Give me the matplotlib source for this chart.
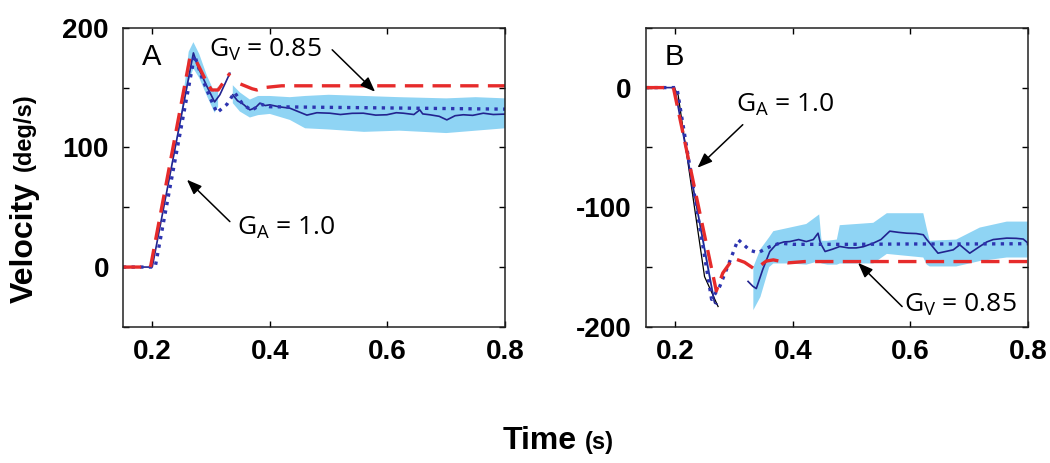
import numpy as np
import matplotlib.pyplot as plt

nan = np.nan

# ---- panel A (upward step) ----
a_ga_t = [0.15, 0.197, 0.264, 0.275, 0.285, 0.293, 0.301, 0.312, 0.322, 0.332, nan,
          0.35, 0.36, 0.37, 0.378, 0.39, 0.42, 0.8]
a_ga_v = [0, 0, 175, 172, 162, 154, 148, 148, 155, 162, nan,
          153, 151, 149, 148, 150, 151.5, 151.5]

a_gv_t = [0.15, 0.205, 0.272, 0.284, 0.298, 0.31, 0.327, 0.34, 0.354, 0.369, 0.385,
          0.4, 0.5, 0.6, 0.7, 0.8]
a_gv_v = [0, 0, 177, 159, 142, 129, 136, 146, 136, 131, 136,
          134, 133.5, 133, 132.5, 132]

a_mean_t = [0.15, 0.2, 0.27, 0.278, 0.293, 0.306, 0.315, 0.332, nan,
            0.337, 0.345, 0.355, 0.366, 0.375, 0.383, 0.392, 0.40, 0.415, 0.434,
            0.448, 0.463, 0.48, 0.502, 0.52, 0.54, 0.559, 0.58, 0.599, 0.615,
            0.627, 0.645, 0.655, 0.66, 0.672, 0.688, 0.701, 0.715, 0.729, 0.745,
            0.763, 0.78, 0.797, 0.8]
a_mean_v = [0, 0, 179, 167, 151, 138, 144, 162, nan,
            144, 139, 136, 131.4, 133, 137, 135, 135.6, 134, 132.8,
            130, 127, 129, 128.6, 127.5, 128.5, 128.6, 127, 127.3, 129,
            128.6, 127.5, 131.4, 128, 127.3, 126, 123, 126.5, 127.3, 126.8,
            128.6, 127.5, 127.8, 127.8]

a_band_t = [0.2, 0.25, 0.262, 0.27, 0.28, 0.293, 0.306, 0.312, nan,
            0.337, 0.349, 0.366, 0.38, 0.40, 0.434, 0.46, 0.50, 0.56, 0.62,
            0.70, 0.75, 0.8]
a_band_lo = [0, 124, 155, 166, 158, 143, 129, 134, nan,
             137, 130, 125, 127, 128, 123, 116, 115, 113, 114,
             112, 114, 116]
a_band_hi = [0, 132, 180, 188, 178, 160, 146, 151, nan,
             152, 146, 140, 143, 143, 142, 143, 144, 143, 142,
             141, 142, 141]

# ---- panel B (downward step) ----
b_ga_t = [0.15, 0.197, 0.27, 0.281, 0.299, 0.318, 0.333, 0.341, 0.355, 0.367,
          0.392, 0.42, 0.8]
b_ga_v = [0, 0, -170, -155, -142.6, -146, -151, -150, -145, -144,
          -146.5, -145.4, -145.4]

b_gv_t = [0.15, 0.203, 0.262, 0.276, 0.293, 0.307, 0.327, 0.341, 0.361, 0.378,
          0.4, 0.5, 0.6, 0.7, 0.8]
b_gv_v = [0, 0, -177, -166, -145, -127, -136, -138, -133, -130,
          -131, -131, -130.7, -130.7, -130.5]

b_mean_t = [0.15, 0.199, 0.267, 0.271, nan,
            0.324, 0.332, 0.338, 0.349, 0.361, 0.372, 0.385, 0.395, 0.41, 0.423,
            0.435, 0.443, 0.447, 0.455, 0.468, 0.48, 0.495, 0.508, 0.52, 0.537,
            0.55, 0.565, 0.58, 0.594, 0.61, 0.622, 0.628, 0.633, 0.647, 0.66,
            0.673, 0.684, 0.701, 0.718, 0.73, 0.741, 0.764, 0.78, 0.792, 0.8]
b_mean_v = [0, 0, -180, -181, nan,
            -162, -166, -168, -152, -137, -131, -129, -128.7, -127, -128.7,
            -127, -121.7, -130, -137, -135, -132.8, -134, -134, -133, -130,
            -127, -120, -121, -121.7, -122, -123, -127, -130, -138.4, -137,
            -135.6, -131.4, -138.4, -132.8, -129, -127, -125.8, -126, -126.6, -130]

b_band_t = [0.2, 0.23, 0.255, 0.267, nan,
            0.333, 0.345, 0.36, 0.367, 0.395, 0.423, 0.445, 0.449, 0.459, 0.475,
            0.48, 0.537, 0.56, 0.622, 0.628, 0.633, 0.678, 0.718, 0.764, 0.8]
b_band_lo = [0, -85, -153, -182, nan,
             -186, -175, -150, -147, -147, -148, -145, -147, -148, -148,
             -147, -147, -139, -142, -148, -149.5, -149.5, -145, -142, -142]
b_band_hi = [0, -79, -143, -176, nan,
             -150, -135, -125, -120, -117, -114, -106, -128, -128, -127,
             -115, -113, -105, -105, -118, -128, -127, -117, -112, -112]

b_black_t = [0.198, 0.205, 0.25, 0.262, 0.273]
b_black_v = [0, -6, -158, -171, -183]

x_ticks = [0.2, 0.4, 0.6, 0.8]

RED = '#e62b2b'
NAVY = '#22238f'
DOT = '#2d34b0'
BAND = '#8fd4f4'

plt.rcParams['font.family'] = ['Liberation Sans', 'DejaVu Sans']

fig = plt.figure(figsize=(10.5, 4.63), dpi=100)
axA = fig.add_axes([0.117, 0.294, 0.364, 0.646])
axB = fig.add_axes([0.615, 0.294, 0.364, 0.646])


def draw_panel(ax, band_t, lo, hi, ga_t, ga_v, gv_t, gv_v, m_t, m_v):
    ax.fill_between(band_t, lo, hi, color=BAND, lw=0)
    ax.plot(m_t, m_v, color=NAVY, lw=1.2)
    ax.plot(gv_t, gv_v, color=DOT, lw=2.4, linestyle=(0, (1, 1.6)))
    ax.plot(ga_t, ga_v, color=RED, lw=2.4, linestyle=(0, (5.5, 2.8)))


def style_axes(ax, ylim, yticks, ylabels):
    ax.set_xlim(0.15, 0.8)
    ax.set_ylim(*ylim)
    ax.set_xticks(x_ticks)
    ax.set_xticklabels([str(v) for v in x_ticks])
    ax.set_yticks(yticks)
    ax.set_yticklabels(ylabels)
    ax.tick_params(direction='in', top=True, right=True, length=4, width=1,
                   labelsize=20)
    ax.tick_params(axis='y', pad=10)
    ax.tick_params(axis='x', pad=9)
    for lab in ax.get_xticklabels() + ax.get_yticklabels():
        lab.set_fontweight('bold')
    for s in ax.spines.values():
        s.set_linewidth(1.1)
        s.set_color('#222222')


draw_panel(axA, a_band_t, a_band_lo, a_band_hi, a_ga_t, a_ga_v,
           a_gv_t, a_gv_v, a_mean_t, a_mean_v)
axB.plot(b_black_t, b_black_v, color='black', lw=0.9)
draw_panel(axB, b_band_t, b_band_lo, b_band_hi, b_ga_t, b_ga_v,
           b_gv_t, b_gv_v, b_mean_t, b_mean_v)

style_axes(axA, (-50, 200), [-50, 0, 50, 100, 150, 200],
           ['', '0', '', '100', '', '200'])
style_axes(axB, (-200, 50), [-200, -150, -100, -50, 0, 50],
           ['-200', '', '-100', '', '0', ''])

ann_font = dict(fontsize=19, family=['Open Sans', 'DejaVu Sans'], va='baseline')
arrow = dict(arrowstyle='-|>,head_length=0.9,head_width=0.35', color='black',
             lw=1.1, shrinkA=0, shrinkB=0)

axA.text(0.182, 169, 'A', fontsize=21, va='baseline')
axA.text(0.296, 176, r'G$\mathregular{_V}$ = 0.85', **ann_font)
axA.annotate('', xy=(0.579, 146.5), xytext=(0.506, 181.6), arrowprops=arrow)
axA.text(0.344, 27, r'G$\mathregular{_A}$ = 1.0', **ann_font)
axA.annotate('', xy=(0.259, 73), xytext=(0.332, 38), arrowprops=arrow)

axB.text(0.182, 19, 'B', fontsize=21, va='baseline')
axB.text(0.303, -20, r'G$\mathregular{_A}$ = 1.0', **ann_font)
axB.annotate('', xy=(0.238, -67), xytext=(0.315, -31), arrowprops=arrow)
axB.text(0.589, -187, r'G$\mathregular{_V}$ = 0.85', **ann_font)
axB.annotate('', xy=(0.511, -146.5), xytext=(0.586, -183), arrowprops=arrow)

# axis titles
fig.text(33 / 1050, 1 - 303 / 463, 'Velocity', rotation=90, rotation_mode='anchor',
         ha='left', va='baseline', fontsize=23, fontweight='bold')
fig.text(31 / 1050, 1 - 171 / 463, '(deg/s)', rotation=90, rotation_mode='anchor',
         ha='left', va='baseline', fontsize=17, fontweight='bold')
fig.text(503 / 1050, 1 - 449 / 463, 'Time', ha='left', va='baseline',
         fontsize=23, fontweight='bold')
fig.text(585 / 1050, 1 - 449 / 463, '(s)', ha='left', va='baseline',
         fontsize=17, fontweight='bold')

fig.savefig('out.png', dpi=100)
